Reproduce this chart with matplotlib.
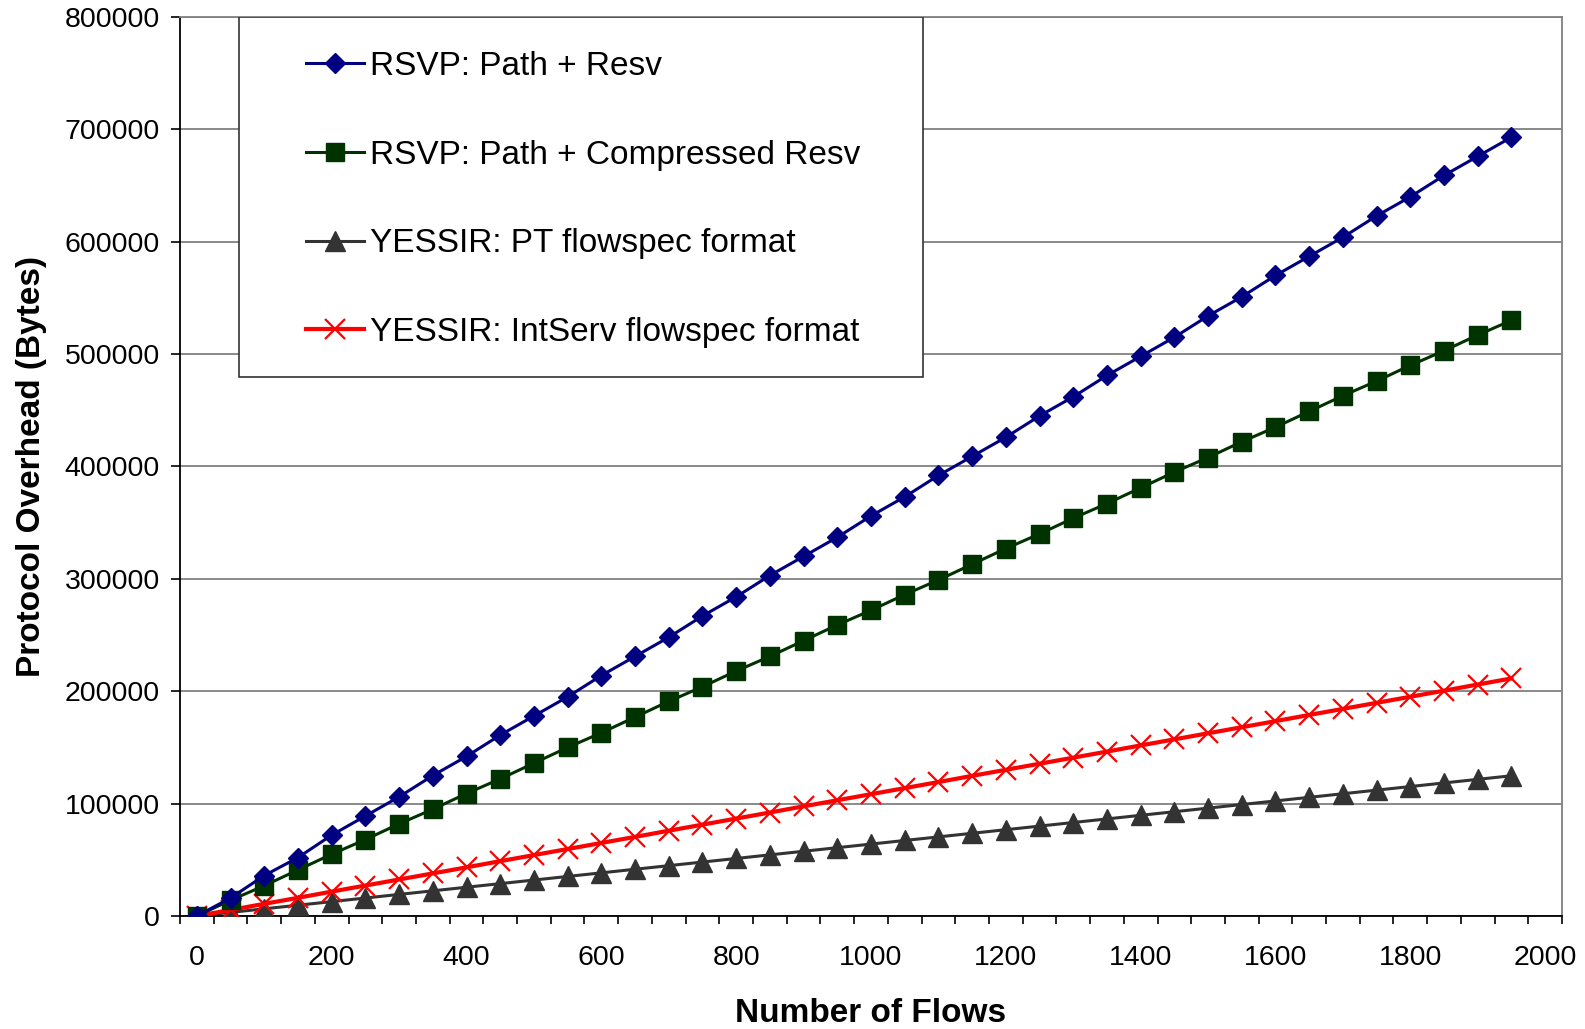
import matplotlib
matplotlib.use("Agg")
import matplotlib.pyplot as plt
from matplotlib.patches import Rectangle
from matplotlib.ticker import MultipleLocator

plt.rcParams['font.family'] = ['Liberation Sans', 'DejaVu Sans']

flows = [0, 50, 100, 150, 200, 250, 300, 350, 400, 450, 500, 550, 600, 650, 700,
         750, 800, 850, 900, 950, 1000, 1050, 1100, 1150, 1200, 1250, 1300, 1350,
         1400, 1450, 1500, 1550, 1600, 1650, 1700, 1750, 1800, 1850, 1900, 1950]

rsvp_path_resv = [0, 16000, 36000, 52000, 72000, 89000, 106000, 125000, 142000,
                  161000, 178000, 195000, 214000, 231000, 248000, 267000, 284000,
                  303000, 320000, 337000, 356000, 373000, 392000, 409000, 426000,
                  445000, 462000, 481000, 498000, 515000, 534000, 551000, 570000,
                  587000, 604000, 623000, 640000, 659000, 676000, 693000]

rsvp_compressed = [0, 14000, 27000, 41000, 55000, 68000, 82000, 95000, 109000,
                   122000, 136000, 150000, 163000, 177000, 191000, 204000, 218000,
                   231000, 245000, 259000, 272000, 286000, 299000, 313000, 327000,
                   340000, 354000, 367000, 381000, 395000, 408000, 422000, 435000,
                   449000, 463000, 476000, 490000, 503000, 517000, 530000]

yessir_pt = [0, 3200, 6400, 9600, 12800, 16000, 19200, 22400, 25600, 28800, 32000,
             35200, 38400, 41600, 44800, 48000, 51200, 54400, 57600, 60800, 64000,
             67200, 70400, 73600, 76800, 80000, 83200, 86400, 89600, 92800, 96000,
             99200, 102400, 105600, 108800, 112000, 115200, 118400, 121600, 124800]

yessir_intserv = [0, 5400, 10800, 16200, 21700, 27100, 32500, 37900, 43300, 48800,
                  54200, 59600, 65000, 70400, 75900, 81300, 86700, 92100, 97600,
                  103000, 108400, 113800, 119200, 124700, 130100, 135500, 140900,
                  146300, 151800, 157200, 162600, 168000, 173400, 178900, 184300,
                  189700, 195100, 200500, 206000, 211400]

labels = ["RSVP: Path + Resv", "RSVP: Path + Compressed Resv",
          "YESSIR: PT flowspec format", "YESSIR: IntServ flowspec format"]

W, H = 1585, 1029
fig = plt.figure(figsize=(W / 100, H / 100), dpi=100)
ax = fig.add_axes([180 / W, 1 - 916 / H, 1382 / W, 899 / H])

ax.plot(flows, rsvp_path_resv, color='#000080', lw=2.2, marker='D', ms=9.8,
        mfc='#000080', mec='#000080', label=labels[0], zorder=5)
ax.plot(flows, rsvp_compressed, color='#003300', lw=2.2, marker='s', ms=12.5,
        mfc='#003300', mec='#003300', label=labels[1], zorder=4)
ax.plot(flows, yessir_pt, color='#333333', lw=2.2, marker='^', ms=14,
        mfc='#333333', mec='#333333', label=labels[2], zorder=3)
ax.plot(flows, yessir_intserv, color='#FF0000', lw=3, marker='x', ms=14,
        mew=1.6, mec='#FF0000', label=labels[3], zorder=3)

ax.set_xlim(-25, 2025)
ax.set_ylim(0, 800000)
ax.xaxis.set_major_locator(MultipleLocator(200))
ax.set_xticks(range(-25, 2026, 50), minor=True)
ax.tick_params(axis='x', which='major', length=0, labelsize=20.5, pad=21)
ax.tick_params(axis='x', which='minor', length=6, width=1.2, direction='out', color='black')
ax.yaxis.set_major_locator(MultipleLocator(100000))
ax.tick_params(axis='y', which='major', length=6.5, width=1.2, labelsize=20.5, pad=8)

ax.grid(axis='y', color='#808080', lw=1.3)
ax.set_axisbelow(True)
for side in ('left', 'bottom'):
    ax.spines[side].set_color('black')
    ax.spines[side].set_linewidth(1.3)
for side in ('top', 'right'):
    ax.spines[side].set_color('#808080')
    ax.spines[side].set_linewidth(1.3)

ax.set_xlabel('Number of Flows', fontsize=24, fontweight='bold', labelpad=19)
ax.set_ylabel('Protocol Overhead (Bytes)', fontsize=24, fontweight='bold', labelpad=13)

# legend box
ax.add_patch(Rectangle((0.0427, 0.5996), 0.4949, 0.4004, transform=ax.transAxes,
                       facecolor='white', edgecolor='#333333', lw=1.2, zorder=8))
leg = ax.legend(loc='upper left', bbox_to_anchor=(0.0912, 0.962), frameon=False,
                fontsize=24, labelspacing=1.73, handlelength=1.73, handletextpad=0.2,
                borderpad=0, borderaxespad=0)
leg.set_zorder(9)

fig.savefig('out.png', dpi=100)
